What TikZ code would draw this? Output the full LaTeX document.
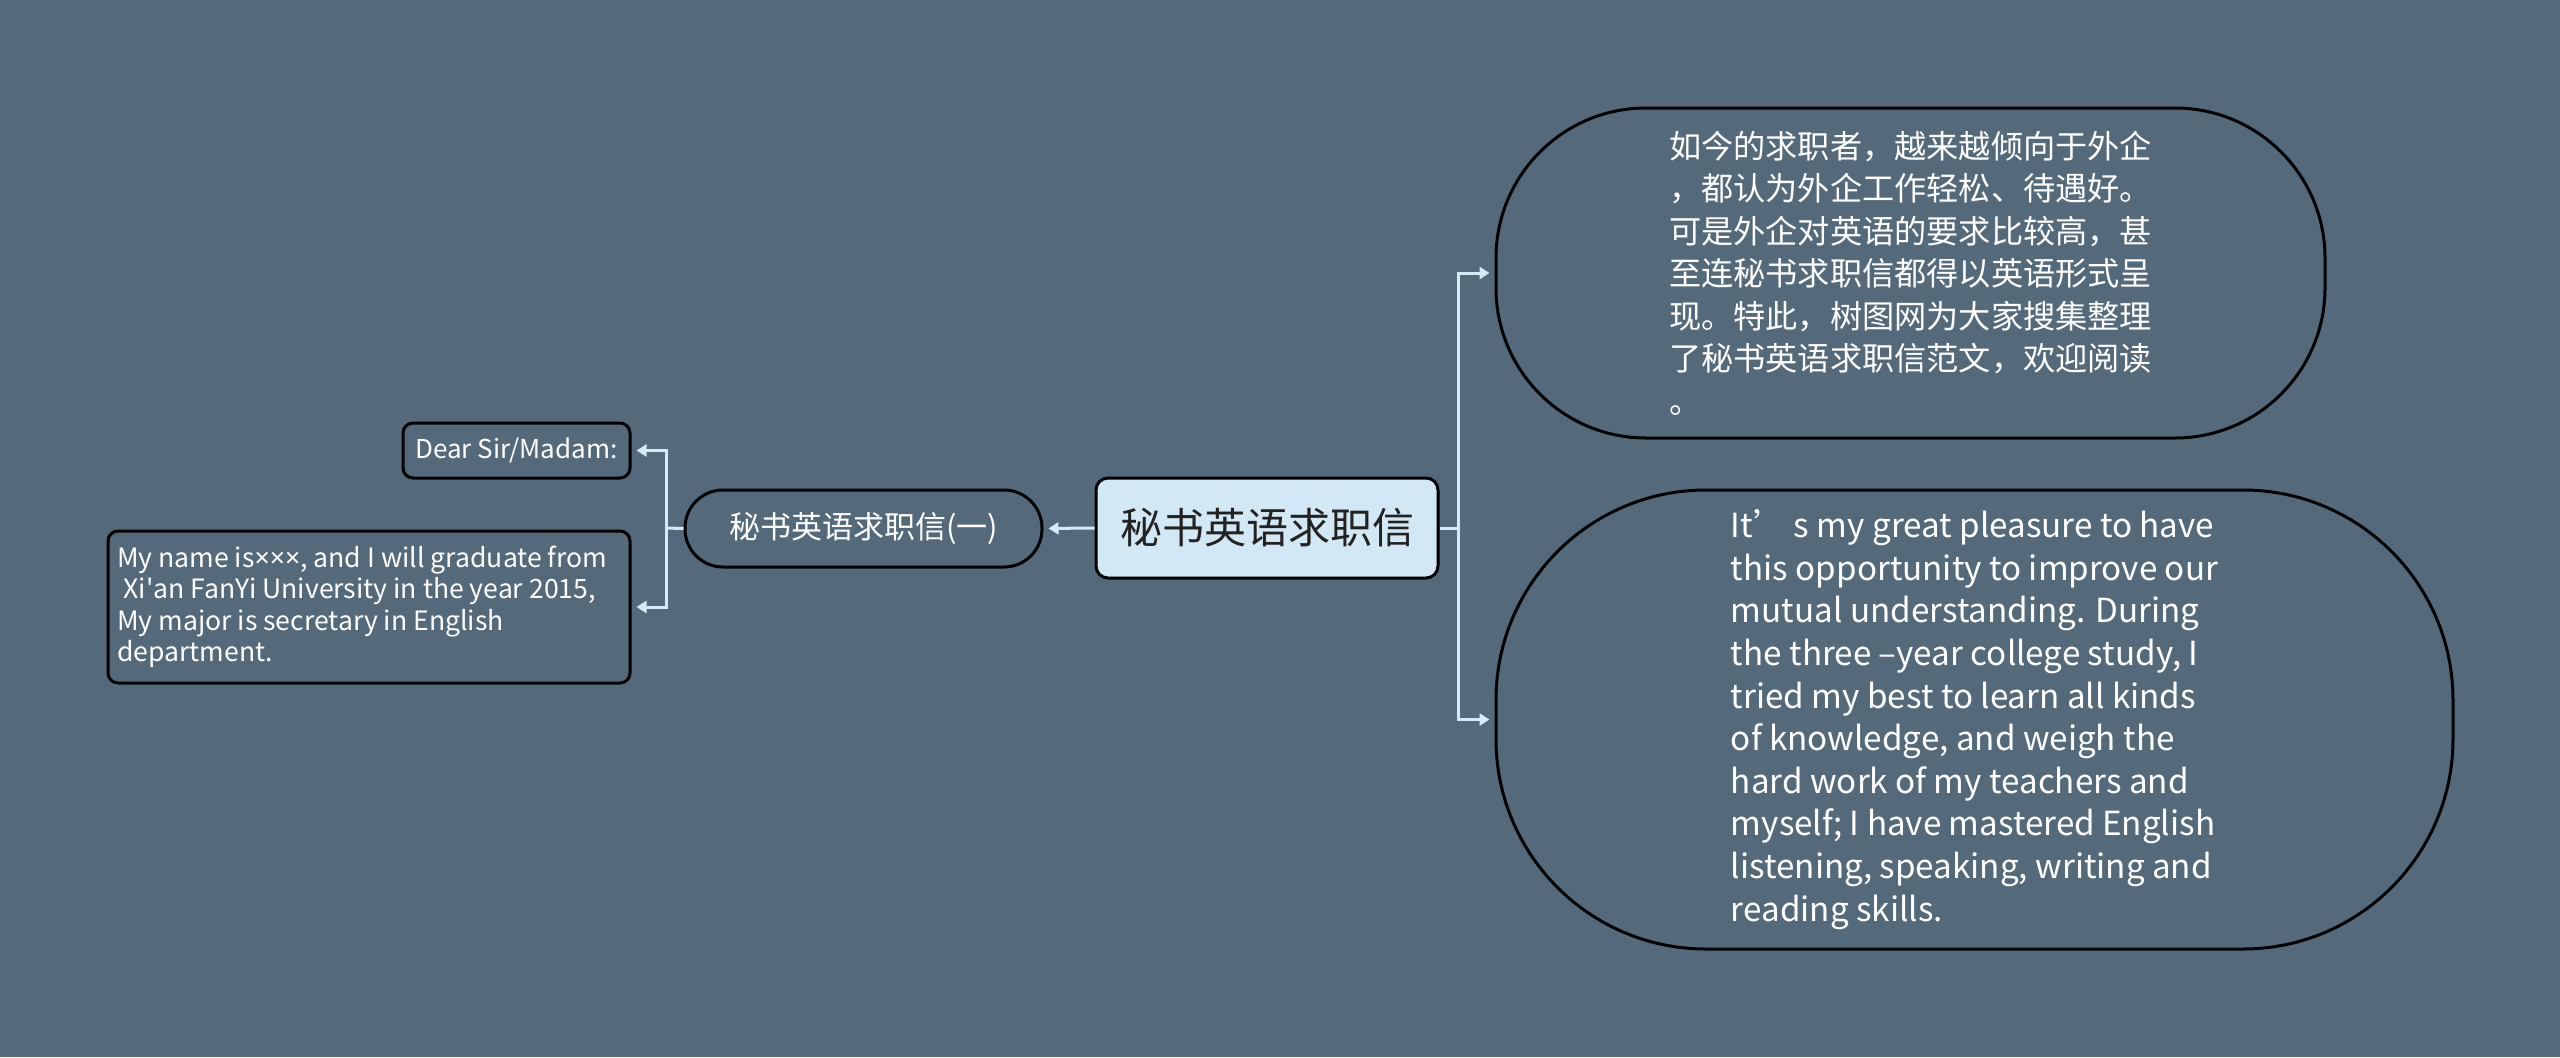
\documentclass[tikz,border=0pt]{standalone}
\usepackage{fontspec}
\setmainfont{Noto Sans CJK SC}[Ligatures=TeXOff]
\newfontfamily\latin{Noto Sans}
\usetikzlibrary{arrows.meta}
\definecolor{bgc}{HTML}{546A7A}
\definecolor{cfill}{HTML}{D2E8F4}
\definecolor{lnc}{HTML}{D5EAF6}
\definecolor{ctext}{HTML}{222222}
\tikzset{
  box/.style={draw=black, line width=1.5pt, inner sep=0pt, text=white, align=left},
  conn/.style={draw=lnc, line width=1.5pt},
  tip/.style={-{Triangle[length=5pt,width=6pt]}, shorten >=2.5pt}
}
\begin{document}
\begin{tikzpicture}[x=0.5pt,y=-0.5pt]
\useasboundingbox[fill=bgc] (0,0) rectangle (2560,1057);

\node[box, fill=cfill, text=ctext, rounded corners=6pt, minimum width=171pt, minimum height=50pt,
  font=\fontsize{21pt}{25pt}\selectfont] (c) at (1267,528) {秘书英语求职信};

\node[box, fill=bgc, rounded corners=19pt, minimum width=178.5pt, minimum height=38.5pt,
  font=\fontsize{15.5pt}{19pt}\selectfont] (l1) at (863.5,528.5) {秘书英语求职信(一)};

\node[box, fill=bgc, rounded corners=5pt, minimum width=113.5pt, minimum height=27.5pt,
  font=\fontsize{13pt}{16pt}\selectfont] (dear) at (516.5,450.5) {Dear Sir/Madam:};

\node[box, fill=bgc, rounded corners=5pt, minimum width=261pt, minimum height=76pt,
  font=\fontsize{13.3pt}{15.75pt}\selectfont] (my) at (369,607)
  {\parbox{252pt}{\raggedright My name is{\latin ×××}, and I will graduate from\\
  \hspace{0.25em}Xi'an FanYi University in the year 2015,\\
  My major is secretary in English\\
  department.}};

\node[box, fill=bgc, rounded corners=75pt, minimum width=414.5pt, minimum height=165pt,
  font=\fontsize{16.1pt}{21.25pt}\selectfont] (tr) at (1910.5,273)
  {如今的求职者，越来越倾向于外企\\
  ，都认为外企工作轻松、待遇好。\\
  可是外企对英语的要求比较高，甚\\
  至连秘书求职信都得以英语形式呈\\
  现。特此，树图网为大家搜集整理\\
  了秘书英语求职信范文，欢迎阅读\\
  。\hspace{8pt}};

\node[box, fill=bgc, rounded corners=105pt, minimum width=478.5pt, minimum height=229.5pt,
  font=\fontsize{16.6pt}{21.3pt}\selectfont] (br) at (1974.5,719.5)
  {It’ s my great pleasure to have\\
  this opportunity to improve our\\
  mutual understanding. During\\
  the three –year college study, I\\
  tried my best to learn all kinds\\
  of knowledge, and weigh the\\
  hard work of my teachers and\\
  myself; I have mastered English\\
  listening, speaking, writing and\\
  reading skills.};

\coordinate (rj) at (1458,528);
\coordinate (lj) at (666,528);

\draw[conn] (c.east) -- (rj);
\draw[conn, tip] (rj) |- (tr.west);
\draw[conn, tip] (rj) |- (br.west);

\draw[conn, tip] (c.west) -- (l1.east);
\draw[conn] (l1.west) -- (lj);
\draw[conn, tip] (lj) |- (dear.east);
\draw[conn, tip] (lj) |- (my.east);
\end{tikzpicture}
\end{document}
